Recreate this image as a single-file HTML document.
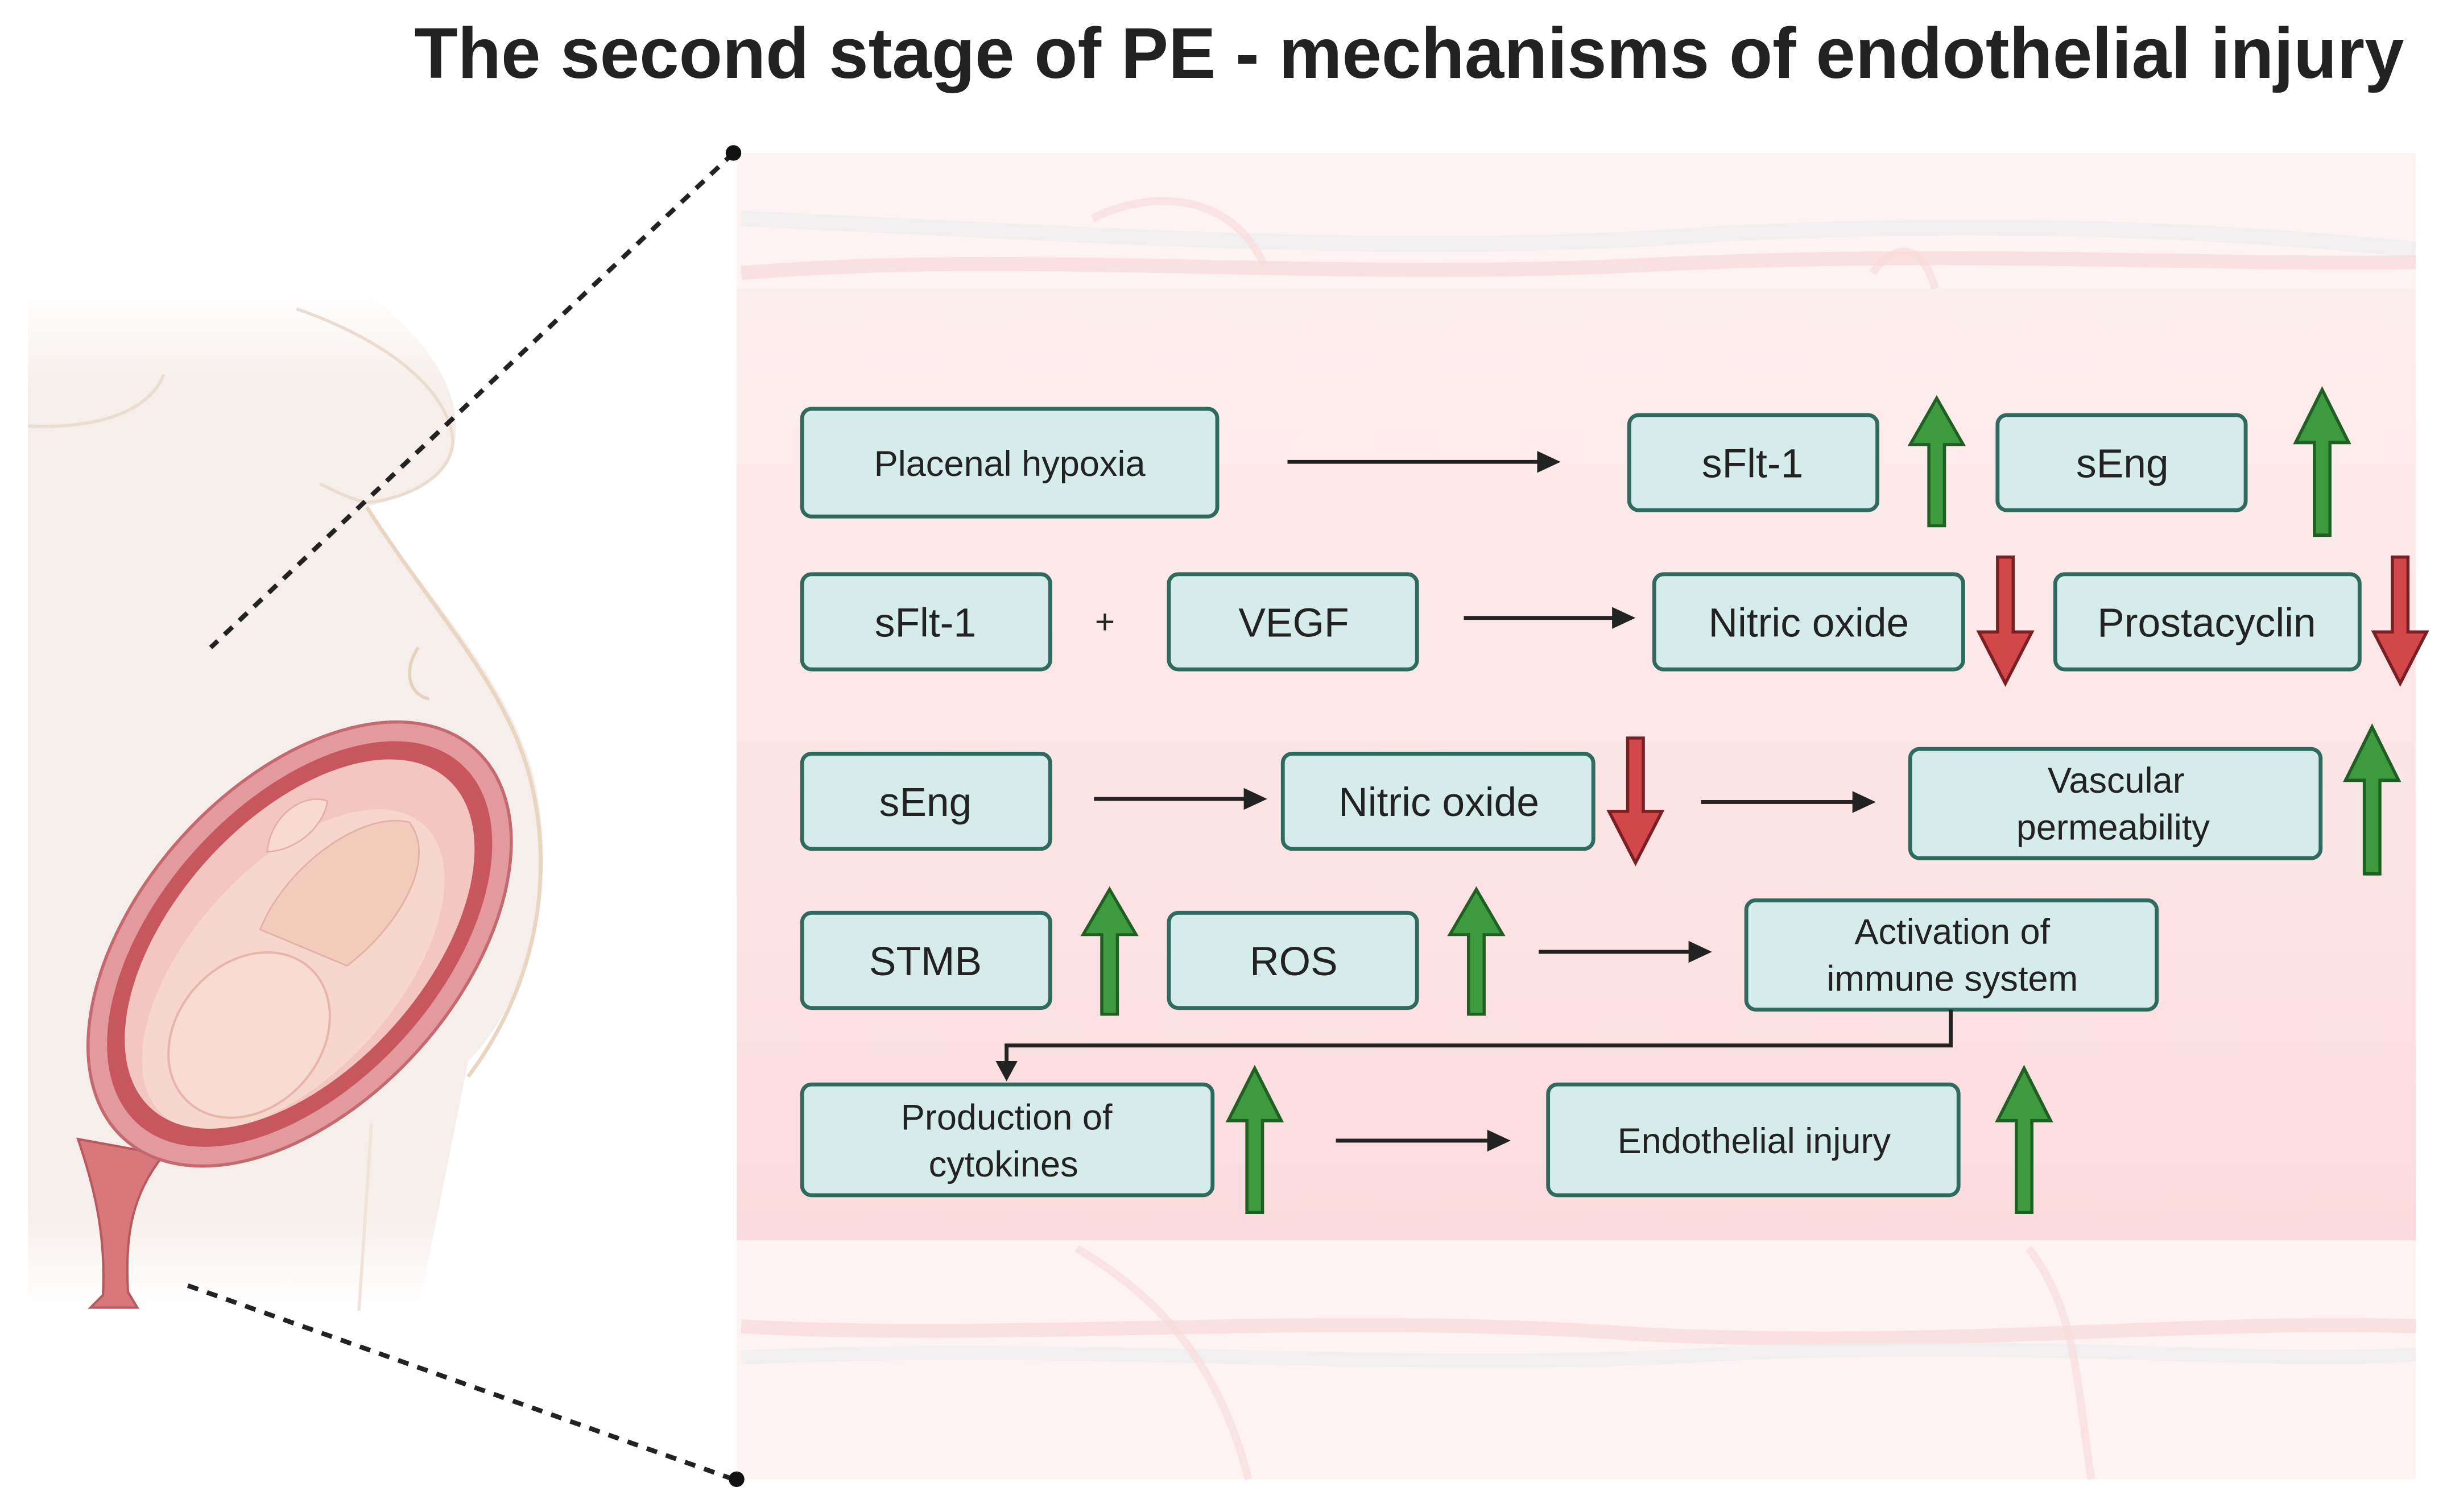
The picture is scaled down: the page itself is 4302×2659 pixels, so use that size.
<!DOCTYPE html>
<html><head><meta charset="utf-8"><style>
html,body{margin:0;padding:0;background:#fff;}
svg{display:block;}
text{font-family:"Liberation Sans",sans-serif;}
</style></head><body>
<svg width="4302" height="2659" viewBox="0 0 1568 969" preserveAspectRatio="none" xmlns="http://www.w3.org/2000/svg">
<defs>
<linearGradient id="bodyg" x1="0" y1="0" x2="0" y2="1">
<stop offset="0" stop-color="#f7efeb" stop-opacity="0"/>
<stop offset="0.1" stop-color="#f6eeea"/>
<stop offset="0.9" stop-color="#f6eeea"/>
<stop offset="1" stop-color="#f7efeb" stop-opacity="0"/>
</linearGradient>
<linearGradient id="pinkg" x1="0" y1="0" x2="0" y2="1">
<stop offset="0" stop-color="#fdeeee"/>
<stop offset="1" stop-color="#fbdcde"/>
</linearGradient>
<clipPath id="ut"><ellipse cx="0" cy="0" rx="142" ry="80"/></clipPath>
<g id="up"><path d="M-5,0 L-5,-56 L-17,-56 L0,-88 L17,-56 L5,-56 L5,0 Z" fill="#3d9a3e" stroke="#1f5f22" stroke-width="2"/></g>
</defs>
<text x="903" y="50" text-anchor="middle" font-size="46" font-weight="bold" fill="#222" textLength="1275" lengthAdjust="spacingAndGlyphs">The second stage of PE - mechanisms of endothelial injury</text>
<path d="M18,185 L230,185 C275,215 300,255 290,290 C280,315 250,320 235,325 C280,390 320,430 340,490 C360,560 340,640 300,680 L268,840 L18,840 Z" fill="url(#bodyg)"/>
<path d="M190,198 C240,215 285,245 290,280 C292,305 260,320 235,322 C225,320 215,315 205,310" fill="none" stroke="#eadcd0" stroke-width="2"/>
<path d="M235,325 C280,395 325,440 340,500 C355,560 345,630 300,690" fill="none" stroke="#e8d6c3" stroke-width="2.5"/>
<path d="M18,273 C60,275 95,265 105,240" fill="none" stroke="#eadcd0" stroke-width="2"/>
<path d="M268,415 C258,430 262,445 275,448" fill="none" stroke="#e3d2c0" stroke-width="2"/>
<path d="M238,720 L230,840" fill="none" stroke="#efe3da" stroke-width="2"/>
<path d="M50,730 C60,760 68,790 66,830 L58,838 L88,838 L82,828 C80,790 85,765 105,740 Z" fill="#d9787c" stroke="#b9595d" stroke-width="1.5"/>
<g transform="translate(192,605) rotate(-48)">
<ellipse cx="0" cy="0" rx="168" ry="102" fill="#e39a9c" stroke="#c46a6e" stroke-width="2"/>
<ellipse cx="0" cy="0" rx="155" ry="90" fill="#c8575d"/>
<ellipse cx="0" cy="0" rx="142" ry="80" fill="#f4c6c0"/>
<g clip-path="url(#ut)">
<ellipse cx="-15" cy="8" rx="125" ry="66" fill="#f7d6cc"/>
<ellipse cx="-65" cy="15" rx="58" ry="46" fill="#f9dcd1" stroke="#e8b6a8" stroke-width="1.5"/>
<path d="M-10,-25 C30,-40 90,-28 105,0 C100,28 55,40 10,32 Z" fill="#f3cbbd" stroke="#e4b0a3"/>
<path d="M30,-55 C50,-70 75,-62 80,-48 C68,-40 45,-40 30,-55Z" fill="#f8dacf" stroke="#e4b0a3"/>
</g>
</g>
<line x1="470" y1="98" x2="135" y2="415" stroke="#222" stroke-width="3" stroke-dasharray="7,6"/>
<line x1="470" y1="948" x2="115" y2="822" stroke="#222" stroke-width="3" stroke-dasharray="7,6"/>
<rect x="472" y="98" width="1076" height="850" fill="#fdf3f3"/>
<rect x="472" y="185" width="1076" height="610" fill="url(#pinkg)"/>
<path d="M475,140 C700,150 900,165 1100,150 C1300,140 1450,150 1548,160" fill="none" stroke="#ececef" stroke-width="10" opacity="0.7"/>
<path d="M475,175 C650,160 850,180 1050,170 C1250,160 1400,170 1548,168" fill="none" stroke="#f8d8d8" stroke-width="9" opacity="0.7"/>
<path d="M700,140 C740,120 790,125 810,170 M1200,175 C1210,160 1230,150 1240,185" fill="none" stroke="#f8d8d8" stroke-width="5" opacity="0.6"/>
<path d="M475,850 C650,860 850,840 1050,855 C1250,865 1400,845 1548,850" fill="none" stroke="#f8d8d8" stroke-width="9" opacity="0.7"/>
<path d="M475,870 C700,860 900,880 1100,868 C1300,858 1450,875 1548,868" fill="none" stroke="#ececef" stroke-width="9" opacity="0.7"/>
<path d="M690,800 C740,830 780,870 800,948 M1300,800 C1330,840 1330,880 1340,948" fill="none" stroke="#f8d8d8" stroke-width="5" opacity="0.6"/>
<circle cx="470" cy="98" r="5" fill="#111"/>
<circle cx="472" cy="948" r="5" fill="#111"/>
<g fill="#d5ecea" stroke="#2e6b5e" stroke-width="2.5">
<rect x="514" y="262" width="266" height="69" rx="6"/>
<rect x="1044" y="266" width="159" height="61" rx="6"/>
<rect x="1280" y="266" width="159" height="61" rx="6"/>
<rect x="514" y="368" width="159" height="61" rx="6"/>
<rect x="749" y="368" width="159" height="61" rx="6"/>
<rect x="1060" y="368" width="198" height="61" rx="6"/>
<rect x="1317" y="368" width="195" height="61" rx="6"/>
<rect x="514" y="483" width="159" height="61" rx="6"/>
<rect x="822" y="483" width="199" height="61" rx="6"/>
<rect x="1224" y="480" width="263" height="70" rx="6"/>
<rect x="514" y="585" width="159" height="61" rx="6"/>
<rect x="749" y="585" width="159" height="61" rx="6"/>
<rect x="1119" y="577" width="263" height="70" rx="6"/>
<rect x="514" y="695" width="263" height="71" rx="6"/>
<rect x="992" y="695" width="263" height="71" rx="6"/>
</g>
<g font-size="26" fill="#222" text-anchor="middle">
<text x="647" y="305" font-size="23">Placenal hypoxia</text>
<text x="1123" y="306">sFlt-1</text>
<text x="1360" y="306">sEng</text>
<text x="593" y="408">sFlt-1</text>
<text x="708" y="406" font-size="22">+</text>
<text x="829" y="408">VEGF</text>
<text x="1159" y="408">Nitric oxide</text>
<text x="1414" y="408">Prostacyclin</text>
<text x="593" y="523">sEng</text>
<text x="922" y="523">Nitric oxide</text>
<text x="1356" y="508" font-size="23">Vascular</text>
<text x="1354" y="538" font-size="23">permeability</text>
<text x="1251" y="605" font-size="23">Activation of</text>
<text x="1251" y="635" font-size="23">immune system</text>
<text x="645" y="724" font-size="23">Production of</text>
<text x="643" y="754" font-size="23">cytokines</text>
<text x="1124" y="739" font-size="23">Endothelial injury</text>
<text x="593" y="625">STMB</text>
<text x="829" y="625">ROS</text>
</g>
<g stroke="#222" stroke-width="2.5" fill="none">
<line x1="825" y1="296" x2="988" y2="296"/>
<line x1="938" y1="396" x2="1036" y2="396"/>
<line x1="701" y1="512" x2="800" y2="512"/>
<line x1="1090" y1="514" x2="1190" y2="514"/>
<line x1="986" y1="610" x2="1085" y2="610"/>
<line x1="856" y1="731" x2="956" y2="731"/>
<polyline points="1250,647 1250,670 645,670 645,683"/>
</g>
<g fill="#222">
<polygon points="1000,296 985,289 985,303"/>
<polygon points="1048,396 1033,389 1033,403"/>
<polygon points="812,512 797,505 797,519"/>
<polygon points="1202,514 1187,507 1187,521"/>
<polygon points="1097,610 1082,603 1082,617"/>
<polygon points="968,731 953,724 953,738"/>
<polygon points="645,693 638,680 652,680"/>
</g>
<g transform="translate(1241,337) scale(1,0.93)"><use href="#up"/></g>
<g transform="translate(1488,343) scale(1,1.06)"><use href="#up"/></g>
<g transform="translate(1520,560) scale(1,1.07)"><use href="#up"/></g>
<g transform="translate(711,650) scale(1,0.91)"><use href="#up"/></g>
<g transform="translate(946,650) scale(1,0.91)"><use href="#up"/></g>
<g transform="translate(804,777) scale(1,1.05)"><use href="#up"/></g>
<g transform="translate(1297,777) scale(1,1.05)"><use href="#up"/></g>
<g fill="#d2474a" stroke="#7a1f22" stroke-width="2">
<path d="M1280,357 L1290,357 L1290,405 L1302,405 L1285,438 L1268,405 L1280,405 Z"/>
<path d="M1533,357 L1543,357 L1543,405 L1555,405 L1538,438 L1521,405 L1533,405 Z"/>
<path d="M1043,473 L1053,473 L1053,520 L1065,520 L1048,553 L1031,520 L1043,520 Z"/>
</g>
</svg>
</body></html>
